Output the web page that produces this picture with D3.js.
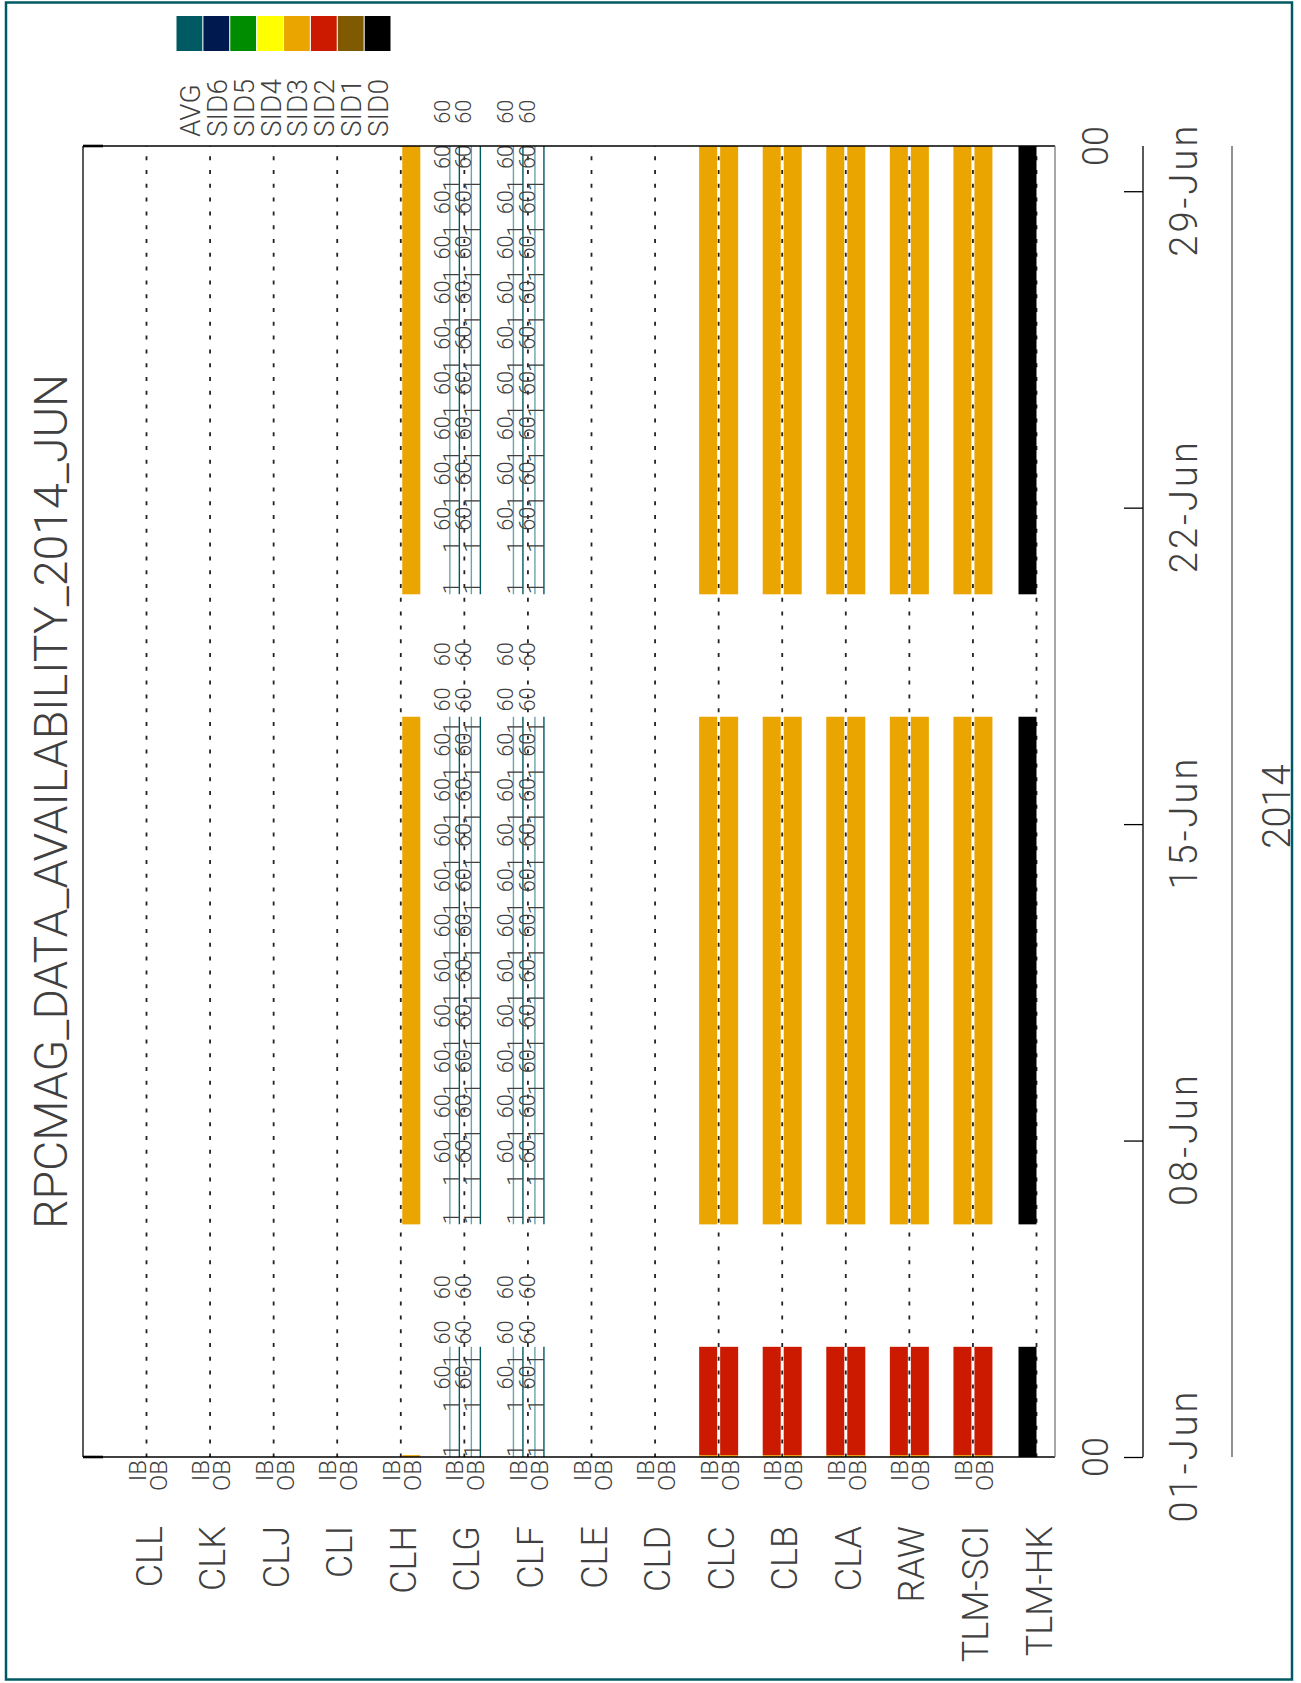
<!DOCTYPE html>
<html>
<head>
<meta charset="utf-8">
<script src="https://cdn.jsdelivr.net/npm/d3@7/dist/d3.min.js"></script>
<style>
  html, body { margin: 0; padding: 0; background: #fff; }
  svg { display: block; }
  text { font-family: Roboto, "Noto Sans", "DejaVu Sans", sans-serif; font-weight: 300; fill: #404040; }
</style>
</head>
<body>
<div id="chart"></div>
<script>
// ---------------- data ----------------
const title = "RPCMAG_DATA_AVAILABILITY_2014_JUN";
const rows = ["CLL","CLK","CLJ","CLI","CLH","CLG","CLF","CLE","CLD","CLC","CLB","CLA","RAW","TLM-SCI","TLM-HK"];
const sides = ["IB","OB"];
const sidNames = ["AVG","SID6","SID5","SID4","SID3","SID2","SID1","SID0"];
const sidColors = ["#005a64","#001a50","#008c00","#ffff00","#eba500","#cc1a00","#7f5a00","#000000"];
const timeDomain = ["2014-06-01T00:00","2014-06-30T00:00"];
const periodStarts = ["2014-06-01T00:00","2014-06-06T03:30","2014-06-20T02:00"];
const periodEnds   = ["2014-06-03T10:30","2014-06-17T09:00","2014-06-30T00:00"];
const sliverEnd = "2014-06-01T01:00";
const fullRows = ["CLC","CLB","CLA","RAW","TLM-SCI"];
const fullRowPeriodSid = ["SID2","SID3","SID3"];
const clhRow = "CLH";
const clhPeriodSid = [null,"SID3","SID3"];
const hkRow = "TLM-HK";
const hkPeriodSid = ["SID0","SID0","SID0"];
const avgRows = ["CLG","CLF"];
const avgMaxLabel = "60";
const avgMinLabel = "1";
const avgDays = ["2014-06-01","2014-06-02","2014-06-03",
  "2014-06-06","2014-06-07","2014-06-08","2014-06-09","2014-06-10","2014-06-11",
  "2014-06-12","2014-06-13","2014-06-14","2014-06-15","2014-06-16","2014-06-17",
  "2014-06-20","2014-06-21","2014-06-22","2014-06-23","2014-06-24","2014-06-25",
  "2014-06-26","2014-06-27","2014-06-28","2014-06-29"];
const tickDays = ["2014-06-01","2014-06-08","2014-06-15","2014-06-22","2014-06-29"];
const tickLabels = ["01-Jun","08-Jun","15-Jun","22-Jun","29-Jun"];
const hourLabel = "00";
const yearLabel = "2014";

// ---------------- setup ----------------
const W = 1301, H = 1683;
const P = d3.utcParse("%Y-%m-%dT%H:%M");
const PD = d3.utcParse("%Y-%m-%d");

const svg = d3.select("#chart").append("svg").attr("width", W).attr("height", H);

const plot = {left: 83, right: 1055, top: 146, bottom: 1457};
const y = d3.scaleUtc().domain(timeDomain.map(P)).range([plot.bottom, plot.top]);
const x = d3.scalePoint().domain(rows).range([146.5, 1036.5]);
const sidColor = d3.scaleOrdinal().domain(sidNames).range(sidColors);

function rtext(g, px, py, txt, anchor, size) {
  return g.append("text")
    .attr("transform", `translate(${px},${py}) rotate(-90)`)
    .attr("text-anchor", anchor)
    .style("font-size", size + "px")
    .text(txt);
}

// outer border
svg.append("rect").attr("x", 6).attr("y", 2.5).attr("width", 1286).attr("height", 1677)
  .attr("fill", "none").attr("stroke", "#005a64").attr("stroke-width", 2.5);

// legend
const legend = svg.append("g");
const lx = d3.scaleBand().domain(sidNames).range([176.5, 390.5]).paddingInner(0.04).paddingOuter(0);
legend.selectAll("rect").data(sidNames).join("rect")
  .attr("x", d => lx(d)).attr("y", 16).attr("width", lx.bandwidth()).attr("height", 35)
  .attr("fill", d => sidColor(d));
sidNames.forEach(n => rtext(legend, lx(n) + lx.bandwidth() / 2 + 10.5, 137, n, "start", 28));

// title
rtext(svg, 67, (plot.top + plot.bottom) / 2, title, "middle", 46)
  .attr("textLength", 855).attr("lengthAdjust", "spacingAndGlyphs");

// dashed row lines
const grid = svg.append("g");
grid.selectAll("line").data(rows).join("line")
  .attr("x1", d => x(d)).attr("x2", d => x(d))
  .attr("y1", plot.top).attr("y2", plot.bottom)
  .attr("stroke", "#222").attr("stroke-width", 1.8)
  .attr("stroke-dasharray", "4,9.8").attr("stroke-dashoffset", 3.6);

// build bar table
const sideOffset = {IB: [-19.5, -1.5], OB: [1.5, 19.5], HK: [-18, 0]};
const bars = [];
fullRows.forEach(r => sides.forEach(s => {
  bars.push({row: r, side: s, sid: "SID3", start: periodStarts[0], end: sliverEnd});
  periodStarts.forEach((st, i) => bars.push({row: r, side: s, sid: fullRowPeriodSid[i],
    start: i === 0 ? sliverEnd : st, end: periodEnds[i]}));
}));
bars.push({row: clhRow, side: "OB", sid: "SID3", start: periodStarts[0], end: sliverEnd});
periodStarts.forEach((st, i) => { if (clhPeriodSid[i]) bars.push({row: clhRow, side: "OB", sid: clhPeriodSid[i], start: st, end: periodEnds[i]}); });
periodStarts.forEach((st, i) => bars.push({row: hkRow, side: "HK", sid: hkPeriodSid[i], start: st, end: periodEnds[i]}));

svg.append("g").selectAll("rect").data(bars).join("rect")
  .attr("x", d => x(d.row) + sideOffset[d.side][0])
  .attr("width", d => sideOffset[d.side][1] - sideOffset[d.side][0])
  .attr("y", d => y(P(d.end)))
  .attr("height", d => y(P(d.start)) - y(P(d.end)))
  .attr("fill", d => sidColor(d.sid));

// AVG rows: lines and labels
const avgG = svg.append("g");
const avgLineOff = {IB: {light: -14.5, dark: -5}, OB: {light: 7, dark: 16}};
avgRows.forEach(r => sides.forEach(s => {
  periodStarts.forEach((st, i) => {
    const t0 = P(st), t1 = P(periodEnds[i]);
    ["light", "dark"].forEach(k => {
      avgG.append("line")
        .attr("x1", x(r) + avgLineOff[s][k]).attr("x2", x(r) + avgLineOff[s][k])
        .attr("y1", y(t0)).attr("y2", y(t1))
        .attr("stroke", k === "light" ? "#6aa4aa" : "#005a64")
        .attr("stroke-width", 1.4);
    });
    const marks = [t0].concat(d3.utcDay.range(t0, t1).filter(d => +d !== +t0));
    marks.forEach(m => rtext(avgG, x(r) + avgLineOff[s].dark, y(m), avgMinLabel, "start", 22));
  });
  avgDays.forEach(dd => {
    const d = PD(dd);
    rtext(avgG, x(r) + avgLineOff[s].light, y(d3.utcDay.offset(d, 2)) - 1, avgMaxLabel, "end", 22)
      .attr("textLength", 24).attr("lengthAdjust", "spacingAndGlyphs");
  });
}));

// frame
const frame = svg.append("g");
frame.append("line").attr("x1", plot.left).attr("x2", plot.right).attr("y1", plot.top).attr("y2", plot.top).attr("stroke", "#000").attr("stroke-width", 1.3);
frame.append("line").attr("x1", plot.left).attr("x2", plot.right).attr("y1", plot.bottom).attr("y2", plot.bottom).attr("stroke", "#000").attr("stroke-width", 1.3);
frame.append("line").attr("x1", plot.left).attr("x2", plot.left).attr("y1", plot.top).attr("y2", plot.bottom).attr("stroke", "#000").attr("stroke-width", 1.3);
frame.append("line").attr("x1", plot.right).attr("x2", plot.right).attr("y1", plot.top).attr("y2", plot.bottom).attr("stroke", "#777").attr("stroke-width", 1.3);
[plot.top, plot.bottom].forEach(yy => frame.append("line").attr("x1", plot.left).attr("x2", plot.left + 20)
  .attr("y1", yy).attr("y2", yy).attr("stroke", "#000").attr("stroke-width", 2.6));

// IB / OB labels and row labels
const lab = svg.append("g");
rows.filter(r => r !== hkRow).forEach(r => {
  rtext(lab, x(r) - 1, 1460, "IB", "end", 24);
  rtext(lab, x(r) + 20, 1460, "OB", "end", 24);
});
rows.forEach(r => rtext(lab, x(r) + 15, 1526, r, "end", 36));

// time axis
const axisX = 1143;
const ax = svg.append("g").attr("transform", `translate(${axisX},0)`);
ax.call(d3.axisLeft(y).tickValues(tickDays.map(PD)).tickSize(19).tickFormat(""));
ax.select(".domain").attr("stroke", "#000").attr("stroke-width", 1.3).attr("d", `M0,${plot.top}V${plot.bottom}`);
ax.selectAll(".tick line").attr("stroke", "#000").attr("stroke-width", 1.3);
tickDays.forEach((t, i) => rtext(svg, 1197, y(PD(t)), tickLabels[i], "middle", 38)
  .attr("textLength", 131).attr("lengthAdjust", "spacing"));
y.domain().forEach(t => rtext(svg, 1108, y(t), hourLabel, "middle", 36));
svg.append("line").attr("x1", 1232).attr("x2", 1232).attr("y1", plot.top).attr("y2", plot.bottom)
  .attr("stroke", "#555").attr("stroke-width", 1.3);
rtext(svg, 1290, (plot.top + plot.bottom) / 2 + 5, yearLabel, "middle", 38);
</script>
</body>
</html>
